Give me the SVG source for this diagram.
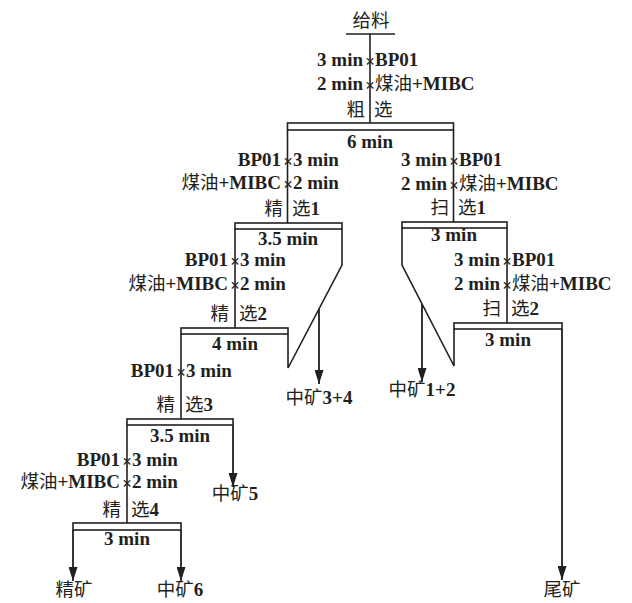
<svg xmlns="http://www.w3.org/2000/svg" width="632" height="603" viewBox="0 0 632 603">
<defs>
<style>
.t{font-family:"Liberation Serif","Noto Sans CJK SC",serif;font-size:19px;font-weight:bold;fill:#231f20}
.c{font-family:"Noto Sans CJK SC","Liberation Serif",sans-serif;font-size:18.5px;font-weight:normal}
.x{font-family:"Liberation Serif",serif;font-size:17px;font-weight:bold;fill:#231f20;text-anchor:middle}
.m{text-anchor:middle}
.e{text-anchor:end}
.bar{fill:#fff;stroke:#231f20;stroke-width:1.6}
.ln{fill:none;stroke:#231f20;stroke-width:1.6}
.ar{fill:none;stroke:#231f20;stroke-width:1.8;marker-end:url(#ah)}
</style>
<marker id="ah" markerUnits="userSpaceOnUse" markerWidth="14" markerHeight="9" refX="14" refY="4.5" orient="auto">
<path d="M0,0 L14,4.5 L0,9 z" fill="#231f20"/>
</marker>
</defs>
<rect width="632" height="603" fill="#fff"/>

<g id="connectors">
<path class="ln" d="M346 34 H395"/>
<path class="ln" d="M370 34 V123"/>
<path class="ln" d="M287.5 130 V223"/>
<path class="ln" d="M453.5 130 V222"/>
<path class="ln" d="M235 229 V328"/>
<path class="ln" d="M342 229 V265 L288 368 V334"/>
<path class="ar" d="M319 309 V384"/>
<path class="ln" d="M402 228 V265 L454 366 V329"/>
<path class="ln" d="M507 228 V323"/>
<path class="ar" d="M422 304 V382"/>
<path class="ar" d="M562 329 V580"/>
<path class="ln" d="M181 334 V419"/>
<path class="ln" d="M127 425 V523"/>
<path class="ar" d="M233 425 V487"/>
<path class="ar" d="M73 530 V581"/>
<path class="ar" d="M181 530 V581"/>
</g>

<g id="feed">
<text class="t m" x="371" y="27"><tspan class="c">给料</tspan></text>
</g>

<g id="rougher">
<rect class="bar" x="287.5" y="123" width="166" height="7"/>
<text class="t e" x="363" y="66">3 min</text>
<text class="x" x="370" y="67">×</text>
<text class="t" x="375" y="66">BP01</text>
<text class="t e" x="363" y="90">2 min</text>
<text class="x" x="370" y="91">×</text>
<text class="t" x="375" y="90"><tspan class="c">煤油</tspan>+MIBC</text>
<text class="t e" x="365" y="116"><tspan class="c">粗</tspan></text>
<text class="t" x="374" y="116"><tspan class="c">选</tspan></text>
<text class="t m" x="370" y="148">6 min</text>
</g>

<g id="cleaner1">
<rect class="bar" x="235" y="223" width="107" height="6"/>
<text class="t e" x="281" y="166">BP01</text>
<text class="x" x="288" y="167">×</text>
<text class="t" x="293" y="166">3 min</text>
<text class="t e" x="281" y="189"><tspan class="c">煤油</tspan>+MIBC</text>
<text class="x" x="288" y="190">×</text>
<text class="t" x="293" y="189">2 min</text>
<text class="t e" x="283" y="215"><tspan class="c">精</tspan></text>
<text class="t" x="292" y="215"><tspan class="c">选</tspan>1</text>
<text class="t m" x="288" y="245">3.5 min</text>
</g>

<g id="scavenger1">
<rect class="bar" x="402" y="222" width="105" height="6"/>
<text class="t e" x="447" y="166">3 min</text>
<text class="x" x="454" y="167">×</text>
<text class="t" x="459" y="166">BP01</text>
<text class="t e" x="447" y="190">2 min</text>
<text class="x" x="454" y="191">×</text>
<text class="t" x="459" y="190"><tspan class="c">煤油</tspan>+MIBC</text>
<text class="t e" x="449" y="214"><tspan class="c">扫</tspan></text>
<text class="t" x="458" y="214"><tspan class="c">选</tspan>1</text>
<text class="t m" x="454" y="241">3 min</text>
</g>

<g id="cleaner2">
<rect class="bar" x="181" y="328" width="107" height="6"/>
<text class="t e" x="228" y="266">BP01</text>
<text class="x" x="235" y="267">×</text>
<text class="t" x="240" y="266">3 min</text>
<text class="t e" x="228" y="290"><tspan class="c">煤油</tspan>+MIBC</text>
<text class="x" x="235" y="291">×</text>
<text class="t" x="240" y="290">2 min</text>
<text class="t e" x="229" y="320"><tspan class="c">精</tspan></text>
<text class="t" x="239" y="320"><tspan class="c">选</tspan>2</text>
<text class="t m" x="235" y="350">4 min</text>
</g>

<g id="scavenger2">
<rect class="bar" x="454" y="323" width="108" height="6"/>
<text class="t e" x="500" y="266">3 min</text>
<text class="x" x="507" y="267">×</text>
<text class="t" x="512" y="266">BP01</text>
<text class="t e" x="500" y="290">2 min</text>
<text class="x" x="507" y="291">×</text>
<text class="t" x="512" y="290"><tspan class="c">煤油</tspan>+MIBC</text>
<text class="t e" x="501" y="315"><tspan class="c">扫</tspan></text>
<text class="t" x="511" y="315"><tspan class="c">选</tspan>2</text>
<text class="t m" x="508" y="346">3 min</text>
</g>

<g id="cleaner3">
<rect class="bar" x="127" y="419" width="106" height="6"/>
<text class="t e" x="174" y="377">BP01</text>
<text class="x" x="181" y="378">×</text>
<text class="t" x="186" y="377">3 min</text>
<text class="t e" x="175" y="411"><tspan class="c">精</tspan></text>
<text class="t" x="185" y="411"><tspan class="c">选</tspan>3</text>
<text class="t m" x="180" y="442">3.5 min</text>
</g>

<g id="cleaner4">
<rect class="bar" x="73" y="523" width="108" height="7"/>
<text class="t e" x="120" y="466">BP01</text>
<text class="x" x="127" y="467">×</text>
<text class="t" x="132" y="466">3 min</text>
<text class="t e" x="120" y="488"><tspan class="c">煤油</tspan>+MIBC</text>
<text class="x" x="127" y="489">×</text>
<text class="t" x="132" y="488">2 min</text>
<text class="t e" x="121" y="516"><tspan class="c">精</tspan></text>
<text class="t" x="131" y="516"><tspan class="c">选</tspan>4</text>
<text class="t m" x="127" y="545">3 min</text>
</g>

<g id="middlings34"><text class="t m" x="319" y="404"><tspan class="c">中矿</tspan>3+4</text></g>
<g id="middlings12"><text class="t m" x="422" y="396"><tspan class="c">中矿</tspan>1+2</text></g>
<g id="middlings5"><text class="t m" x="235" y="500"><tspan class="c">中矿</tspan>5</text></g>
<g id="concentrate"><text class="t m" x="74" y="596"><tspan class="c">精矿</tspan></text></g>
<g id="middlings6"><text class="t m" x="180" y="596"><tspan class="c">中矿</tspan>6</text></g>
<g id="tailings"><text class="t m" x="562" y="596"><tspan class="c">尾矿</tspan></text></g>
</svg>
